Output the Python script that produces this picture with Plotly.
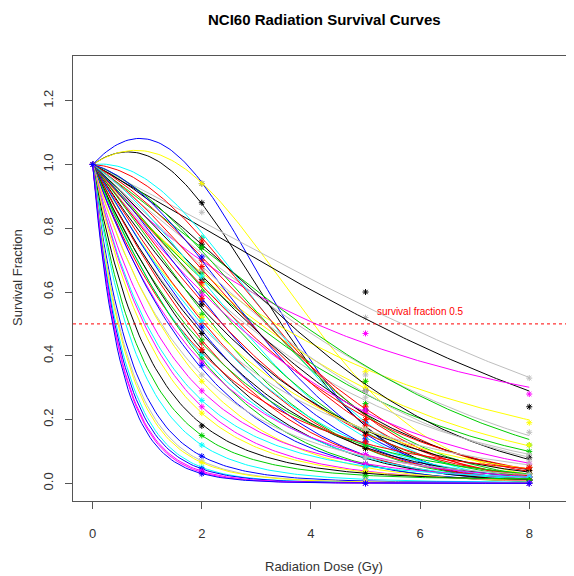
import numpy as np
import plotly.graph_objects as go

# Radiation doses at which survival was measured (Gy)
doses = [0, 2, 5, 8]

# Per-cell-line colour, LQ fit parameters and measured survival fractions
line_colors = [
    "blue", "black", "yellow", "gray", "black", "magenta", "yellow", "gray",
    "green", "green", "yellow", "gray", "cyan",
    "red", "black", "green", "red", "blue", "gray", "red", "black",
    "cyan", "red", "green", "magenta", "blue", "red", "black", "green",
    "yellow", "red", "cyan", "gray", "blue", "black", "red", "green",
    "black", "red", "cyan", "green", "magenta", "blue", "gray", "yellow",
    "magenta", "cyan", "magenta", "yellow", "black", "green", "cyan", "blue",
    "gray", "yellow", "cyan", "blue", "magenta", "magenta", "blue",
]
alpha = [
    -0.182, -0.120, -0.110, 0.085, 0.095, 0.190, 0.210, 0.140,
    0.120, 0.200, 0.200, 0.220, -0.020,
    0.0105, 0.084, 0.0575, 0.091, 0.0485, 0.153, 0.110, 0.1555,
    0.113, 0.189, 0.167, 0.2255, 0.1725, 0.221, 0.259, 0.218,
    0.307, 0.2665, 0.2965, 0.3565, 0.287, 0.3375, 0.3395, 0.4005,
    0.384, 0.466, 0.428, 0.411, 0.484, 0.471, 0.5695, 0.5495,
    0.659, 0.7335, 0.7535, 0.817, 0.9435, 1.0885, 1.18, 1.3925,
    1.49, 1.5465, 1.658, 1.75, 1.835, 1.85, 1.95,
]
beta = [
    0.1054, 0.0928, 0.0697, 0.0066, 0.0075, -0.005, -0.001, 0.0122,
    0.016, 0.011, 0.0085, 0.010, 0.070,
    0.06, 0.03, 0.05, 0.04, 0.065, 0.02, 0.045, 0.03,
    0.055, 0.025, 0.04, 0.015, 0.05, 0.03, 0.02, 0.045,
    0.01, 0.035, 0.025, 0.0, 0.04, 0.02, 0.03, 0.005,
    0.025, -0.01, 0.015, 0.03, 0.0, 0.02, -0.015, 0.01,
    -0.02, -0.03, -0.02, -0.03, -0.05, -0.07, -0.06, -0.08,
    -0.08, -0.09, -0.08, -0.10, -0.10, -0.08, -0.10,
]
sf2 = [
    0.94, 0.88, 0.94, 0.85, 0.75, 0.66, 0.65, 0.70,
    0.77, 0.66, 0.62, 0.60, 0.77,
    0.76, 0.74, 0.74, 0.70, 0.71, 0.67, 0.68, 0.64,
    0.65, 0.63, 0.60, 0.59, 0.57, 0.58, 0.56, 0.53,
    0.52, 0.50, 0.51, 0.48, 0.49, 0.47, 0.44, 0.45,
    0.41, 0.42, 0.40, 0.39, 0.38, 0.37, 0.34, 0.32,
    0.29, 0.26, 0.24, 0.22, 0.18, 0.15, 0.12, 0.085,
    0.07, 0.065, 0.05, 0.045, 0.038, 0.034, 0.03,
]
sf5 = [
    0.19, 0.16, 0.32, 0.52, 0.60, 0.47, 0.35, 0.34,
    0.32, 0.25, 0.30, 0.27, 0.15,
    0.22, 0.29, 0.20, 0.24, 0.14, 0.29, 0.18, 0.23,
    0.13, 0.20, 0.17, 0.23, 0.13, 0.15, 0.16, 0.11,
    0.17, 0.11, 0.12, 0.17, 0.09, 0.11, 0.08, 0.12,
    0.08, 0.13, 0.08, 0.06, 0.09, 0.06, 0.08, 0.05,
    0.06, 0.05, 0.04, 0.04, 0.03, 0.02, 0.01, 0.01,
    0.01, 0.005, 0.0, 0.0, 0.0, 0.0, 0.0,
]
sf8 = [
    0.01, 0.01, 0.03, 0.33, 0.24, 0.28, 0.19, 0.16,
    0.12, 0.10, 0.12, 0.09, 0.01,
    0.03, 0.08, 0.03, 0.04, 0.01, 0.07, 0.02, 0.05,
    0.02, 0.05, 0.02, 0.06, 0.01, 0.03, 0.04, 0.01,
    0.05, 0.02, 0.02, 0.06, 0.01, 0.02, 0.01, 0.03,
    0.01, 0.05, 0.02, 0.01, 0.02, 0.01, 0.03, 0.01,
    0.02, 0.02, 0.01, 0.01, 0.01, 0.01, 0.0, 0.0,
    0.0, 0.0, 0.0, 0.0, 0.0, 0.0, 0.0,
]

x_ticks = [0, 2, 4, 6, 8]
y_ticks = [0.0, 0.2, 0.4, 0.6, 0.8, 1.0, 1.2]
threshold = 0.5

palette = {
    "black": "#000000", "red": "#FF0000", "green": "#00CD00", "blue": "#0000FF",
    "cyan": "#00FFFF", "magenta": "#FF00FF", "yellow": "#FFFF00", "gray": "#BEBEBE",
}

FONT = "Liberation Sans, Arial, sans-serif"
OFF = 8  # page body margin in the browser
W, H = 574 - OFF, 576 - OFF
ML, MR, MT, MB = 73 - OFF, 0, 56 - OFF, H - (501 - OFF)
PW, PH = W - ML - MR, H - MT - MB


def px_x(page_x):
    return (page_x - OFF - ML) / PW


def px_y(page_y):
    return (H - MB - (page_y - OFF)) / PH


fig = go.Figure()
dose_grid = np.linspace(0, 8, 161)
for i in range(len(alpha)):
    c = palette[line_colors[i]]
    surv = np.exp(-alpha[i] * dose_grid - beta[i] * dose_grid ** 2)
    fig.add_trace(go.Scatter(x=dose_grid, y=surv, mode="lines",
                             line=dict(color=c, width=1), hoverinfo="skip",
                             showlegend=False))
    fig.add_trace(go.Scatter(x=doses, y=[1.0, sf2[i], sf5[i], sf8[i]], mode="markers",
                             marker=dict(symbol="asterisk-open", size=5, color=c,
                                         line=dict(color=c, width=1)),
                             showlegend=False))

fig.add_hline(y=threshold, line=dict(color="#FF0000", width=1, dash="dot"))
fig.add_annotation(x=6, y=0.54, text="survival fraction 0.5", showarrow=False,
                   font=dict(family=FONT, size=10, color="#FF0000"))

# axis titles placed like R's mtext
fig.add_annotation(text="Radiation Dose (Gy)", xref="paper", yref="paper",
                   x=px_x(324), y=px_y(566), showarrow=False,
                   xanchor="center", yanchor="middle",
                   font=dict(family=FONT, size=13, color="#333333"))
fig.add_annotation(text="Survival Fraction", xref="paper", yref="paper",
                   x=px_x(17), y=px_y(278), showarrow=False,
                   textangle=-90, xanchor="center", yanchor="middle",
                   font=dict(family=FONT, size=13, color="#333333"))
fig.add_annotation(text="<b>NCI60 Radiation Survival Curves</b>", xref="paper",
                   yref="paper", x=px_x(324), y=px_y(19), showarrow=False,
                   xanchor="center", yanchor="middle",
                   font=dict(family=FONT, size=15, color="#000000"))

axis_col = "#555555"
fig.update_layout(
    width=W, height=H,
    margin=dict(l=ML, r=MR, t=MT, b=MB, autoexpand=False),
    paper_bgcolor="white", plot_bgcolor="white",
    font=dict(family=FONT, size=13, color="#333333"),
    xaxis=dict(range=[-0.36, 8.82], tickvals=x_ticks, ticktext=[str(t) for t in x_ticks],
               showgrid=False, zeroline=False, showline=True, linecolor=axis_col,
               linewidth=1, mirror=True, ticks="outside", ticklen=7, tickcolor=axis_col,
               ticklabelstandoff=13, automargin=False),
    yaxis=dict(range=[-0.0555, 1.3403], tickvals=y_ticks,
               ticktext=[f"{t:.1f}" for t in y_ticks], tickangle=-90,
               showgrid=False, zeroline=False, showline=True, linecolor=axis_col,
               linewidth=1, ticks="outside", ticklen=7, tickcolor=axis_col,
               ticklabelstandoff=7, automargin=False),
)

fig.write_html("out.html")
